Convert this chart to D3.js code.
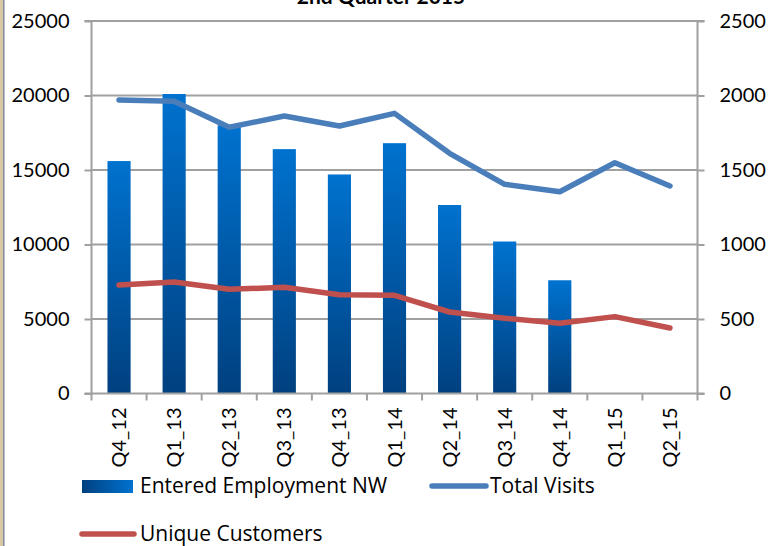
<!DOCTYPE html>
<html><head><meta charset="utf-8">
<script src="https://cdn.jsdelivr.net/npm/d3@7/dist/d3.min.js"></script>
<style>body{margin:0;background:#fff;} svg{display:block;font-family:Lato, "Open Sans", sans-serif;}</style>
</head><body><svg id="c" width="772" height="546"></svg>
<script>
const categories = ["Q4_12","Q1_13","Q2_13","Q3_13","Q4_13","Q1_14","Q2_14","Q3_14","Q4_14","Q1_15","Q2_15"];
const enteredEmployment = [15600, 20100, 18000, 16400, 14700, 16800, 12650, 10200, 7600, null, null];
const totalVisits = [1970, 1961, 1787, 1862, 1795, 1880, 1612, 1404, 1354, 1549, 1393];
const uniqueCustomers = [728, 748, 699, 713, 663, 659, 547, 505, 471, 516, 440];
const leftTicks = [0, 5000, 10000, 15000, 20000, 25000];
const rightTicks = [0, 500, 1000, 1500, 2000, 2500];
const titleText = "2nd Quarter 2015";

const svg = d3.select("#c");
const L = 91.5, R = 697.5, T = 21, B = 393.5;
const x = d3.scaleBand().domain(categories).range([L, R]).paddingInner(0.58).paddingOuter(0.29);
const xb = d3.scaleBand().domain(categories).range([L, R]);
const yL = d3.scaleLinear().domain([0, 25000]).range([B, T]);
const yR = d3.scaleLinear().domain([0, 2500]).range([B, T]);

const defs = svg.append("defs");
const g1 = defs.append("linearGradient").attr("id","barg").attr("x1",0).attr("y1",1).attr("x2",0).attr("y2",0);
g1.append("stop").attr("offset","0%").attr("stop-color","#00407f");
g1.append("stop").attr("offset","100%").attr("stop-color","#0072cf");
const g2 = defs.append("linearGradient").attr("id","legg").attr("x1",0).attr("y1",0).attr("x2",1).attr("y2",0);
g2.append("stop").attr("offset","0%").attr("stop-color","#00407f");
g2.append("stop").attr("offset","100%").attr("stop-color","#0072cf");

// left frame strip
svg.append("rect").attr("x",0).attr("y",0).attr("width",3).attr("height",546).attr("fill","#d6c9a4");
svg.append("rect").attr("x",3).attr("y",0).attr("width",1).attr("height",546).attr("fill","#8a8f9c");
svg.append("rect").attr("x",4).attr("y",0).attr("width",1).attr("height",546).attr("fill","#b8bcc8");

// title (clipped at top, as in the reference)
svg.append("text").attr("x",381).attr("y",4).attr("text-anchor","middle")
  .attr("font-size",21).attr("font-weight","bold").attr("fill","#000").text(titleText);

// gridlines
svg.append("g").selectAll("line").data(leftTicks.filter(d=>d>0)).join("line")
  .attr("x1",L).attr("x2",R).attr("y1",d=>yL(d)).attr("y2",d=>yL(d))
  .attr("stroke","#a0a0a0").attr("stroke-width",2);

// bars
svg.append("g").selectAll("rect").data(categories.map((c,i)=>({c,v:enteredEmployment[i]})).filter(d=>d.v!=null)).join("rect")
  .attr("x",d=>x(d.c)).attr("width",x.bandwidth())
  .attr("y",d=>yL(d.v)).attr("height",d=>B-yL(d.v))
  .attr("fill","url(#barg)");

// axes
const axL = svg.append("g").attr("transform",`translate(${L},0)`)
  .call(d3.axisLeft(yL).tickValues(leftTicks).tickSize(7).tickPadding(15).tickFormat(d3.format("d")));
const axR = svg.append("g").attr("transform",`translate(${R},0)`)
  .call(d3.axisRight(yR).tickValues(rightTicks).tickSize(7).tickPadding(15).tickFormat(d3.format("d")));
const axB = svg.append("g").attr("transform",`translate(0,${B})`)
  .call(d3.axisBottom(xb).tickSize(0).tickPadding(0));
svg.append("g").selectAll("line").data(categories.concat(["_end"])).join("line")
  .attr("x1",(d,i)=>L+i*xb.step()).attr("x2",(d,i)=>L+i*xb.step())
  .attr("y1",B).attr("y2",B+7).attr("stroke","#a0a0a0").attr("stroke-width",2);

[axL, axR, axB].forEach(a=>{
  a.selectAll(".domain").attr("stroke","#a0a0a0").attr("stroke-width",2);
  a.selectAll(".tick line").attr("stroke","#a0a0a0").attr("stroke-width",2);
  a.selectAll("text").attr("font-size",20).attr("fill","#000").attr("font-family","Lato, 'Open Sans', sans-serif");
});
axL.select(".domain").attr("d",`M-7,${T}H0V${B}H-7`);
axR.select(".domain").attr("d",`M7,${T}H0V${B}H7`);
axB.select(".domain").attr("d",`M${L},0H${R}`);
axB.selectAll(".tick text")
  .attr("transform","rotate(-90)")
  .attr("text-anchor","end").attr("dy","0.35em").attr("x",-14).attr("y",0);

// lines
const lineTV = d3.line().x((d,i)=>xb(categories[i])+xb.bandwidth()/2).y(d=>yR(d));
svg.append("path").datum(totalVisits).attr("d",lineTV).attr("fill","none")
  .attr("stroke","#4a7ebb").attr("stroke-width",5.5).attr("stroke-linejoin","round").attr("stroke-linecap","round");
svg.append("path").datum(uniqueCustomers).attr("d",lineTV).attr("fill","none")
  .attr("stroke","#c0504d").attr("stroke-width",5.5).attr("stroke-linejoin","round").attr("stroke-linecap","round");

// legend
const lg = svg.append("g").attr("font-size",21).attr("fill","#000").attr("font-family","'Open Sans', Lato, sans-serif");
lg.append("rect").attr("x",82).attr("y",480).attr("width",51).attr("height",13).attr("fill","url(#legg)");
lg.append("text").attr("x",140).attr("y",486).attr("dy","0.35em").text("Entered Employment NW");
lg.append("line").attr("x1",432).attr("x2",486).attr("y1",486).attr("y2",486)
  .attr("stroke","#4a7ebb").attr("stroke-width",5.5).attr("stroke-linecap","round");
lg.append("text").attr("x",490).attr("y",486).attr("dy","0.35em").text("Total Visits");
lg.append("line").attr("x1",82).attr("x2",134).attr("y1",534).attr("y2",534)
  .attr("stroke","#c0504d").attr("stroke-width",5.5).attr("stroke-linecap","round");
lg.append("text").attr("x",140).attr("y",534).attr("dy","0.35em").text("Unique Customers");
</script></body></html>
